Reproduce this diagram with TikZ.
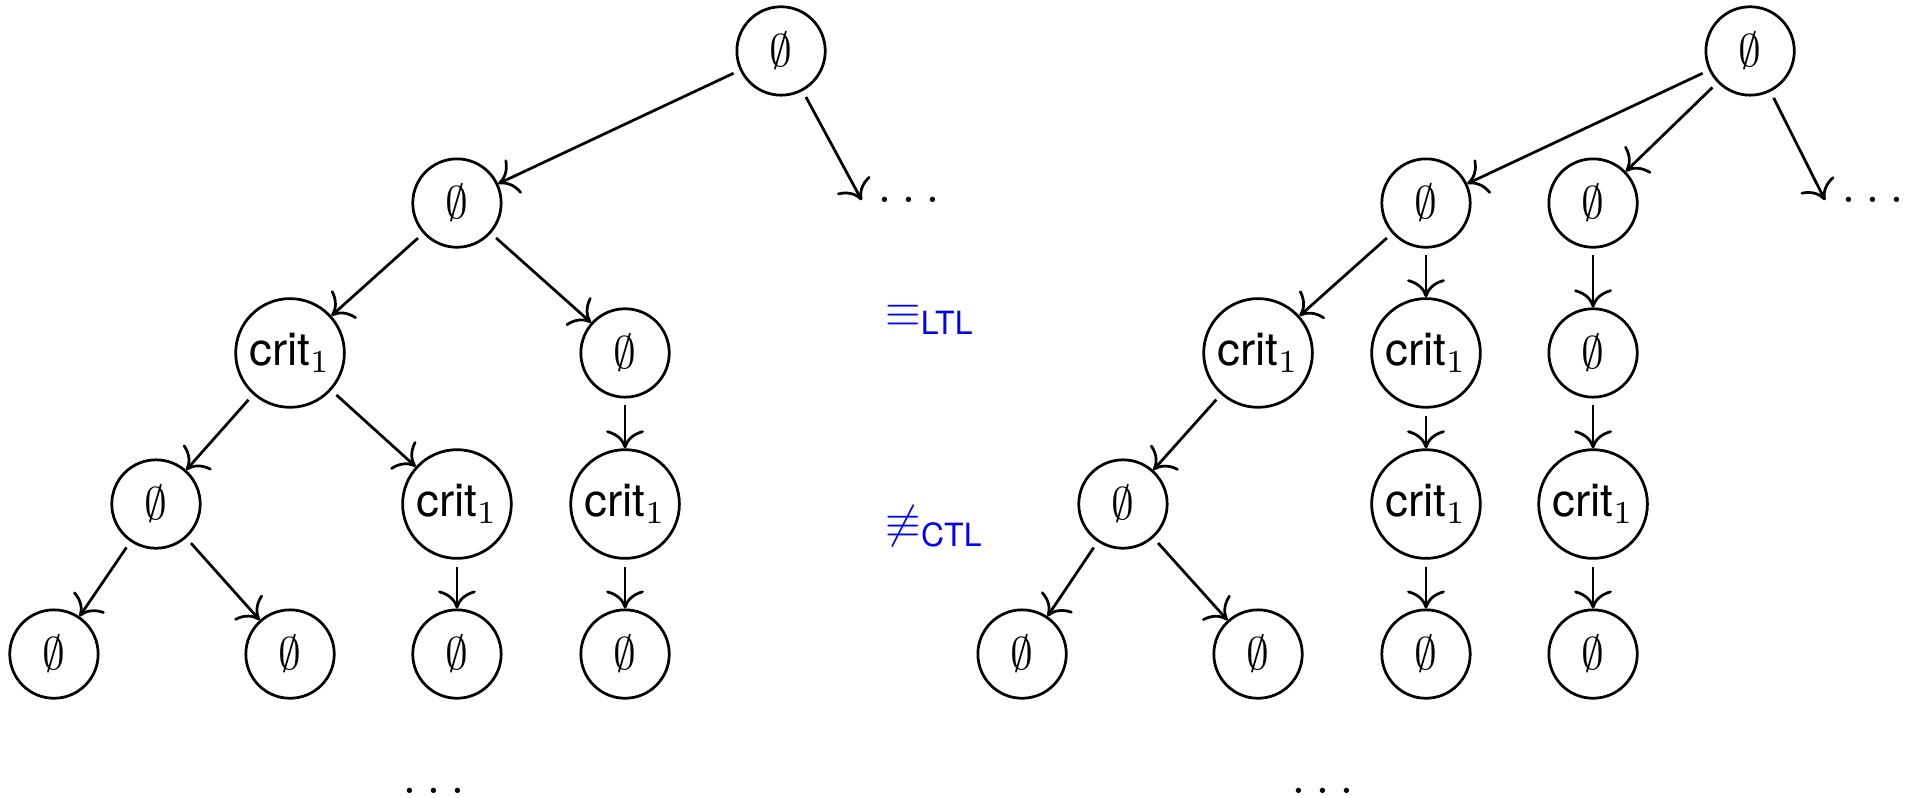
\documentclass[tikz,border=0pt]{standalone}
\usepackage{amssymb}
\usepackage{amsmath}
\usepackage{fontspec}
\setsansfont{TeX Gyre Heros}
\usepackage{tikz}
\usetikzlibrary{arrows.meta}

\newcommand{\crit}{$\textsf{crit}_1$}
\newcommand{\none}{$\emptyset$}

\begin{document}
\begin{tikzpicture}[scale=1,
  st/.style={circle,draw,semithick,inner sep=1.5pt,minimum size=0.68cm},
  tr/.style={-{Computer Modern Rightarrow[scale=1.35]},semithick,shorten <=1.5pt}]

\useasboundingbox (0,0) rectangle (14.715,-6.138);

% left tree
\node[st] (l0) at (6.008,-0.392) {\none};
\node[st] (l1) at (3.515,-1.562) {\none};
\node (ld) at (7.03,-1.54) {\large$\dots$};
\node[st] (l2) at (2.231,-2.715) {\crit};
\node[st] (l3) at (4.808,-2.715) {\none};
\node[st] (l4) at (1.2,-3.877) {\none};
\node[st] (l5) at (3.515,-3.877) {\crit};
\node[st] (l6) at (4.808,-3.877) {\crit};
\node[st] (l7) at (0.415,-5.031) {\none};
\node[st] (l8) at (2.231,-5.031) {\none};
\node[st] (l9) at (3.515,-5.031) {\none};
\node[st] (l10) at (4.808,-5.031) {\none};
\node (le) at (3.377,-6.08) {\large$\dots$};

\draw[tr] (l0)--(ld.west);
\foreach \a/\b in {l0/l1,l1/l2,l1/l3,l2/l4,l2/l5,l3/l6,l4/l7,l4/l8,l5/l9,l6/l10}
{
\draw[tr] (\a)--(\b);
}

% right tree
\node[st] (r0) at (13.462,-0.392) {\none};
\node[st] (r1) at (10.969,-1.562) {\none};
\node[st] (r2) at (12.254,-1.562) {\none};
\node (rd) at (14.44,-1.54) {\large$\dots$};
\node[st] (r3) at (9.677,-2.715) {\crit};
\node[st] (r4) at (10.969,-2.715) {\crit};
\node[st] (r5) at (12.254,-2.715) {\none};
\node[st] (r6) at (8.638,-3.877) {\none};
\node[st] (r7) at (10.969,-3.877) {\crit};
\node[st] (r8) at (12.254,-3.877) {\crit};
\node[st] (r9) at (7.862,-5.031) {\none};
\node[st] (r10) at (9.677,-5.031) {\none};
\node[st] (r11) at (10.969,-5.031) {\none};
\node[st] (r12) at (12.254,-5.031) {\none};
\node (re) at (10.215,-6.08) {\large$\dots$};

\draw[tr] (r0)--(rd.west);
\foreach \a/\b in {r0/r1,r0/r2,r1/r3,r1/r4,r2/r5,r3/r6,r4/r7,r5/r8,r6/r9,r6/r10,r7/r11,r8/r12}
{
\draw[tr] (\a)--(\b);
}

\node[color=blue] (eq) at (7.154,-2.46) {$\equiv_{\textsf{LTL}}$};
\node[color=blue] (neq) at (7.19,-4.05) {$\not\equiv_{\textsf{CTL}}$};
\end{tikzpicture}
\end{document}
